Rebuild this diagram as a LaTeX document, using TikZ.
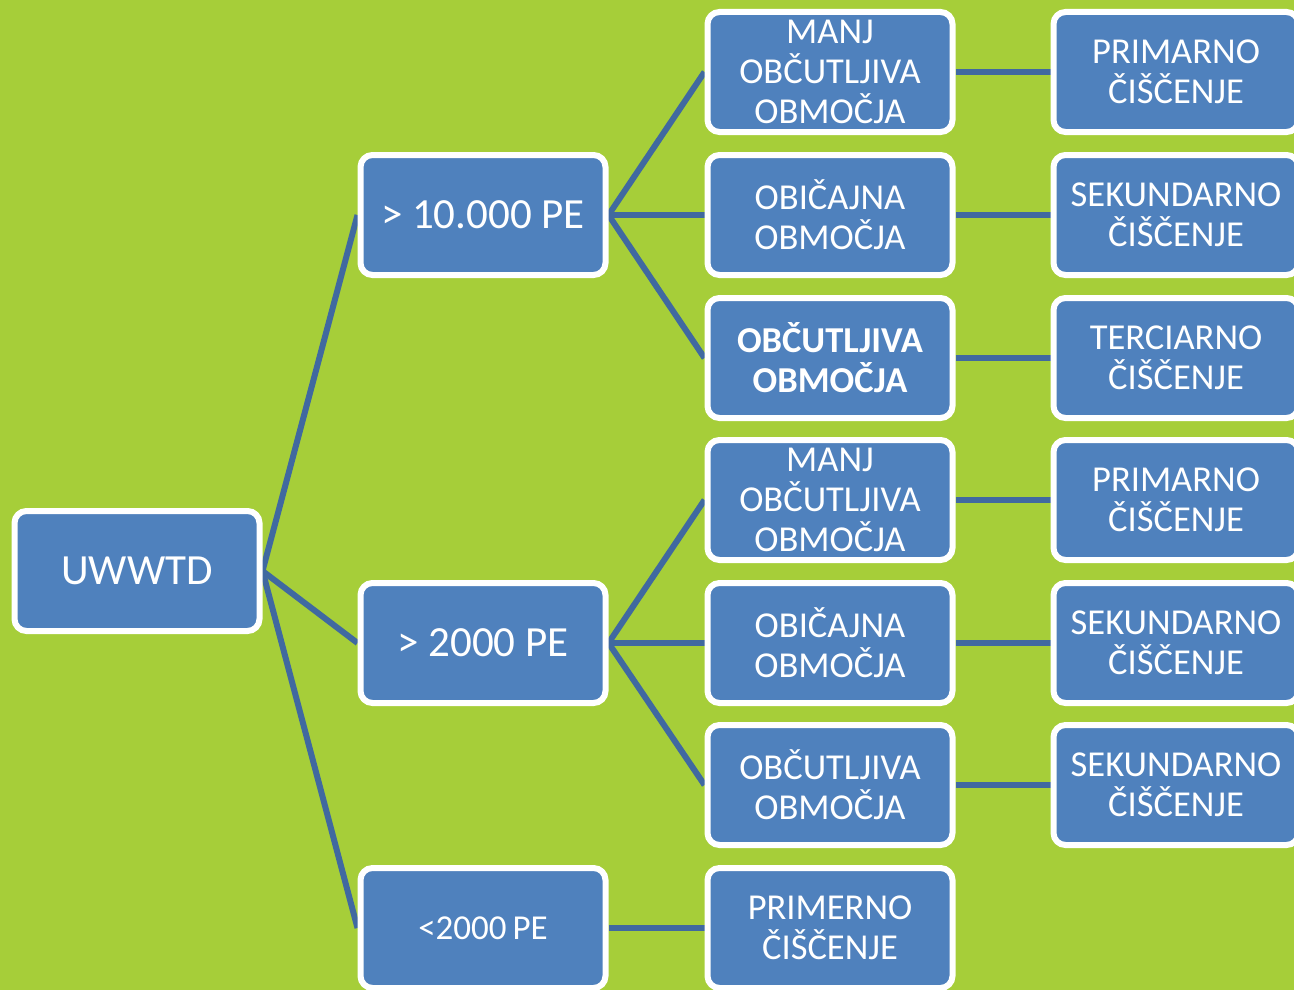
\documentclass[tikz,border=0pt]{standalone}
\usepackage{fontspec}
\setmainfont{Carlito}
\definecolor{bggreen}{HTML}{A6CE39}
\definecolor{boxblue}{HTML}{4F81BD}
\definecolor{lineblue}{HTML}{4069A0}
\pgfdeclarelayer{bg}
\pgfdeclarelayer{lines}
\pgfsetlayers{bg,lines,main}
\tikzset{
  box/.style={draw=white, line width=6pt, fill=boxblue, rounded corners=12pt,
    minimum width=245pt, minimum height=120pt, inner sep=0pt, align=center,
    text=white, font=\fontsize{36.5}{40}\selectfont},
  bigbox/.style={box, font=\fontsize{43}{50}\selectfont},
  conn/.style={draw=lineblue, line width=6pt}
}
\begin{document}
\begin{tikzpicture}[x=1pt,y=-1pt]
\useasboundingbox (0,0) rectangle (1294,990);
\clip (0,0) rectangle (1294,990);
\begin{pgfonlayer}{bg}
\fill[bggreen] (0,0) rectangle (1294,990);
\end{pgfonlayer}
\node[bigbox] (root) at (137,571) {UWWTD};
\node[bigbox] (a) at (483,215) {> 10.000 PE};
\node[bigbox] (b) at (483,643) {> 2000 PE};
\node[box, font=\fontsize{35}{40}\selectfont] (c) at (483,928) {<2000\,PE};
\node[box] (a1) at (830,72) {MANJ\\OBČUTLJIVA\\OBMOČJA};
\node[box] (a2) at (830,215) {OBIČAJNA\\OBMOČJA};
\node[box, font=\fontsize{36.5}{40}\selectfont\bfseries] (a3) at (830,358) {OBČUTLJIVA\\OBMOČJA};
\node[box] (b1) at (830,500) {MANJ\\OBČUTLJIVA\\OBMOČJA};
\node[box] (b2) at (830,643) {OBIČAJNA\\OBMOČJA};
\node[box] (b3) at (830,785) {OBČUTLJIVA\\OBMOČJA};
\node[box] (c1) at (830,928) {PRIMERNO\\ČIŠČENJE};
\node[box] (a1r) at (1176,72) {PRIMARNO\\ČIŠČENJE};
\node[box] (a2r) at (1176,215) {SEKUNDARNO\\ČIŠČENJE};
\node[box] (a3r) at (1176,358) {TERCIARNO\\ČIŠČENJE};
\node[box] (b1r) at (1176,500) {PRIMARNO\\ČIŠČENJE};
\node[box] (b2r) at (1176,643) {SEKUNDARNO\\ČIŠČENJE};
\node[box] (b3r) at (1176,785) {SEKUNDARNO\\ČIŠČENJE};
\begin{pgfonlayer}{lines}
\draw[conn] (root.east) -- (a.west);
\draw[conn] (root.east) -- (b.west);
\draw[conn] (root.east) -- (c.west);
\draw[conn] (a.east) -- (a1.west);
\draw[conn] (a.east) -- (a2.west);
\draw[conn] (a.east) -- (a3.west);
\draw[conn] (b.east) -- (b1.west);
\draw[conn] (b.east) -- (b2.west);
\draw[conn] (b.east) -- (b3.west);
\draw[conn] (c.east) -- (c1.west);
\draw[conn] (a1.east) -- (a1r.west);
\draw[conn] (a2.east) -- (a2r.west);
\draw[conn] (a3.east) -- (a3r.west);
\draw[conn] (b1.east) -- (b1r.west);
\draw[conn] (b2.east) -- (b2r.west);
\draw[conn] (b3.east) -- (b3r.west);
\end{pgfonlayer}
\end{tikzpicture}
\end{document}
